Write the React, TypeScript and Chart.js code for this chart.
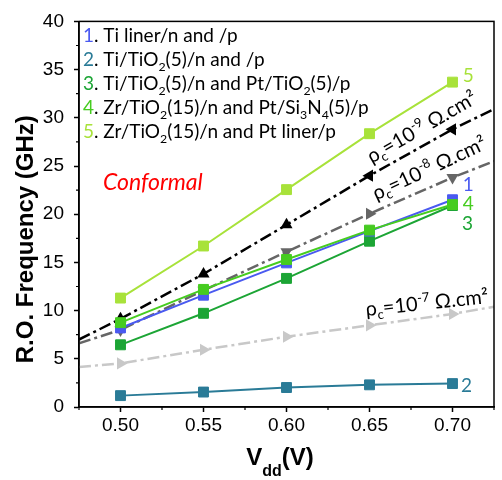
import React, { useEffect, useRef } from 'react';
import { Chart, registerables } from 'chart.js';
Chart.register(...registerables);

// ---- data ----
const vdd = [0.5, 0.55, 0.6, 0.65, 0.7];
const s1 = [8.2, 11.6, 14.95, 18.25, 21.5];
const s2 = [1.18, 1.55, 2.02, 2.3, 2.43];
const s3 = [6.45, 9.72, 13.34, 17.2, 20.9];
const s4 = [8.75, 12.2, 15.3, 18.35, 21.0];
const s5 = [11.3, 16.7, 22.55, 28.35, 33.7];
const rhoX = [0.475, 0.5, 0.55, 0.6, 0.65, 0.7, 0.725];
const rho9 = [7.0, 9.15, 13.8, 18.9, 24.0, 28.8, 30.9];
const rho8 = [6.6, 8.0, 12.1, 16.1, 20.05, 23.8, 25.5];
const rho7 = [4.15, 4.52, 5.94, 7.29, 8.47, 9.65, 10.4];
const yTicks = [0, 5, 10, 15, 20, 25, 30, 35, 40];

const C1 = '#4a5af0';
const C2 = '#2a7b97';
const C3 = '#1ca535';
const C4 = '#46cc20';
const C5 = '#a8e23a';

type Seg = { t: string; c?: string; sub?: boolean; sup?: boolean };

const legendLines: Seg[][] = [
  [{ t: '1', c: C1 }, { t: '. Ti liner/n and /p' }],
  [{ t: '2', c: C2 }, { t: '. Ti/TiO' }, { t: '2', sub: true }, { t: '(5)/n and /p' }],
  [{ t: '3', c: C3 }, { t: '. Ti/TiO' }, { t: '2', sub: true }, { t: '(5)/n and Pt/TiO' }, { t: '2', sub: true }, { t: '(5)/p' }],
  [{ t: '4', c: C4 }, { t: '. Zr/TiO' }, { t: '2', sub: true }, { t: '(15)/n and Pt/Si' }, { t: '3', sub: true }, { t: 'N' }, { t: '4', sub: true }, { t: '(5)/p' }],
  [{ t: '5', c: C5 }, { t: '. Zr/TiO' }, { t: '2', sub: true }, { t: '(15)/n and Pt liner/p' }],
];

const rhoLabels: { segs: Seg[]; x: number; y: number; angle: number }[] = [
  { segs: [{ t: 'ρ' }, { t: 'c', sub: true }, { t: '=10' }, { t: '-9', sup: true }, { t: ' Ω.cm²' }], x: 0.6817, y: 28.96, angle: -30 },
  { segs: [{ t: 'ρ' }, { t: 'c', sub: true }, { t: '=10' }, { t: '-8', sup: true }, { t: ' Ω.cm²' }], x: 0.6862, y: 24.7, angle: -25 },
  { segs: [{ t: 'ρ' }, { t: 'c', sub: true }, { t: '=10' }, { t: '-7', sup: true }, { t: ' Ω.cm²' }], x: 0.6846, y: 10.73, angle: -6 },
];

const endLabels = [
  { t: '5', c: C5, x: 0.7095, y: 34.4 },
  { t: '1', c: C1, x: 0.7095, y: 23.0 },
  { t: '4', c: C4, x: 0.7095, y: 21.1 },
  { t: '3', c: C3, x: 0.709, y: 19.0 },
  { t: '2', c: C2, x: 0.7085, y: 2.23 },
];

const FAM = 'Lato, "Noto Sans", sans-serif';
const ARIAL = '"Liberation Sans", Arial, sans-serif';

function richWidth(ctx: CanvasRenderingContext2D, segs: Seg[], size: number, style = '') {
  let w = 0;
  for (const s of segs) {
    const sz = s.sub || s.sup ? size * 0.65 : size;
    ctx.font = `${style} ${sz}px ${FAM}`;
    w += ctx.measureText(s.t).width;
  }
  return w;
}

function drawRich(ctx: CanvasRenderingContext2D, x: number, y: number, segs: Seg[], size: number, style = '') {
  let cx = x;
  ctx.textAlign = 'left';
  ctx.textBaseline = 'alphabetic';
  for (const s of segs) {
    const sz = s.sub || s.sup ? size * 0.65 : size;
    ctx.font = `${style} ${sz}px ${FAM}`;
    ctx.fillStyle = s.c || '#000';
    const dy = s.sub ? size * 0.22 : s.sup ? -size * 0.4 : 0;
    ctx.fillText(s.t, cx, y + dy);
    cx += ctx.measureText(s.t).width;
  }
}

const decor = {
  id: 'decor',
  afterDraw(chart: any) {
    const ctx: CanvasRenderingContext2D = chart.ctx;
    const { left, right, top, bottom } = chart.chartArea;
    const xs = chart.scales.x;
    const ys = chart.scales.y;
    ctx.save();
    // frame
    ctx.strokeStyle = '#000';
    ctx.lineWidth = 1.5;
    ctx.strokeRect(left, top, right - left, bottom - top);
    // minor ticks
    ctx.lineWidth = 1.2;
    ctx.beginPath();
    for (let v = 2.5; v < 40; v += 5) {
      const py = ys.getPixelForValue(v);
      ctx.moveTo(left - 3, py);
      ctx.lineTo(left, py);
    }
    for (const v of [0.475, 0.525, 0.575, 0.625, 0.675, 0.725]) {
      const px = xs.getPixelForValue(v);
      ctx.moveTo(px, bottom);
      ctx.lineTo(px, bottom + 3);
    }
    ctx.stroke();

    // legend
    legendLines.forEach((segs, i) => {
      drawRich(ctx, left + 4, top + 21 + i * 24, segs, 19);
    });

    // Conformal
    ctx.font = `italic 23px ${FAM}`;
    ctx.fillStyle = '#ff0000';
    ctx.textAlign = 'left';
    ctx.textBaseline = 'alphabetic';
    ctx.fillText('Conformal', left + 24, top + 169);

    // rho labels
    for (const r of rhoLabels) {
      const w = richWidth(ctx, r.segs, 20);
      ctx.save();
      ctx.translate(xs.getPixelForValue(r.x), ys.getPixelForValue(r.y));
      ctx.rotate((r.angle * Math.PI) / 180);
      drawRich(ctx, -w / 2, 6, r.segs, 20);
      ctx.restore();
    }

    // end labels
    ctx.font = `19px ${FAM}`;
    ctx.textAlign = 'center';
    ctx.textBaseline = 'middle';
    for (const e of endLabels) {
      ctx.fillStyle = e.c;
      ctx.fillText(e.t, xs.getPixelForValue(e.x), ys.getPixelForValue(e.y));
    }

    // y title
    ctx.save();
    ctx.translate(33, (top + bottom) / 2 + 25);
    ctx.rotate(-Math.PI / 2);
    ctx.font = `bold 24px ${ARIAL}`;
    ctx.fillStyle = '#000';
    ctx.textAlign = 'center';
    ctx.textBaseline = 'alphabetic';
    ctx.fillText('R.O. Frequency (GHz)', 0, 0);
    ctx.restore();

    // x title
    ctx.fillStyle = '#000';
    ctx.textAlign = 'left';
    ctx.textBaseline = 'alphabetic';
    ctx.font = `bold 24px ${ARIAL}`;
    const wV = ctx.measureText('V').width;
    ctx.font = `bold 16px ${ARIAL}`;
    const wd = ctx.measureText('dd').width;
    ctx.font = `bold 24px ${ARIAL}`;
    const wP = ctx.measureText('(V)').width;
    const total = wV + wd + wP;
    let cx = 280 - total / 2;
    ctx.fillText('V', cx, 465);
    cx += wV;
    ctx.font = `bold 16px ${ARIAL}`;
    ctx.fillText('dd', cx, 476);
    cx += wd;
    ctx.font = `bold 24px ${ARIAL}`;
    ctx.fillText('(V)', cx, 465);

    ctx.restore();
  },
};

function pts(xs: number[], ys: number[]) {
  return xs.map((x, i) => ({ x, y: ys[i] }));
}

export default function App() {
  const ref = useRef<HTMLCanvasElement>(null);
  useEffect(() => {
    if (!ref.current) return;
    const series = (data: number[], color: string, order: number) => ({
      data: pts(vdd, data),
      borderColor: color,
      backgroundColor: color,
      borderWidth: 2,
      pointStyle: 'rect',
      pointRadius: 7,
      pointBorderWidth: 1,
      pointBorderColor: color,
      pointBackgroundColor: color,
      order,
    });
    const rho = (data: number[], color: string, rot: number[], order: number) => ({
      data: pts(rhoX, data),
      borderColor: color,
      backgroundColor: color,
      borderWidth: 2.5,
      borderDash: [12, 4, 3, 4],
      pointStyle: 'triangle',
      pointRadius: [0, 7, 7, 7, 7, 7, 0],
      pointRotation: rot,
      pointBorderWidth: 0,
      pointBackgroundColor: color,
      order,
    });
    const chart = new Chart(ref.current, {
      type: 'line',
      data: {
        datasets: [
          series(s4, C4, 0),
          series(s5, C5, 1),
          series(s1, C1, 2),
          series(s3, C3, 3),
          series(s2, C2, 4),
          rho(rho9, '#000000', [0, 0, 0, 0, 270, 270, 0], 5),
          rho(rho8, '#666666', [0, 180, 180, 180, 90, 180, 0], 6),
          rho(rho7, '#c8c8c8', [0, 90, 90, 90, 90, 90, 0], 7),
        ] as any,
      },
      options: {
        animation: false,
        responsive: false,
        maintainAspectRatio: false,
        layout: { padding: { top: 12, right: 2, left: 0, bottom: 0 } },
        plugins: { legend: { display: false }, tooltip: { enabled: false } },
        scales: {
          x: {
            type: 'linear',
            min: 0.475,
            max: 0.725,
            afterBuildTicks: (s: any) => {
              s.ticks = vdd.map((v) => ({ value: v }));
            },
            ticks: {
              font: { family: ARIAL, size: 19 },
              color: '#000',
              padding: 2,
              maxRotation: 0,
              autoSkip: false,
              callback: (v: any) => Number(v).toFixed(2),
            },
            grid: { drawOnChartArea: false, tickLength: 5, tickColor: '#000', tickWidth: 1.5 },
            border: { color: '#000', width: 1.5 },
            afterFit: (s: any) => {
              s.height = 73;
            },
          },
          y: {
            type: 'linear',
            min: 0,
            max: 40,
            afterBuildTicks: (s: any) => {
              s.ticks = yTicks.map((v) => ({ value: v }));
            },
            ticks: {
              font: { family: ARIAL, size: 19 },
              color: '#000',
              padding: 10,
              autoSkip: false,
            },
            grid: { drawOnChartArea: false, tickLength: 5, tickColor: '#000', tickWidth: 1.5 },
            border: { color: '#000', width: 1.5 },
            afterFit: (s: any) => {
              s.width = 79;
            },
          },
        },
      } as any,
      plugins: [decor],
    });
    return () => chart.destroy();
  }, []);
  return (
    <div style={{ position: 'absolute', left: 0, top: 0, width: 502, height: 480, background: '#fff' }}>
      <canvas ref={ref} width={502} height={480} style={{ width: 502, height: 480, display: 'block' }} />
    </div>
  );
}
